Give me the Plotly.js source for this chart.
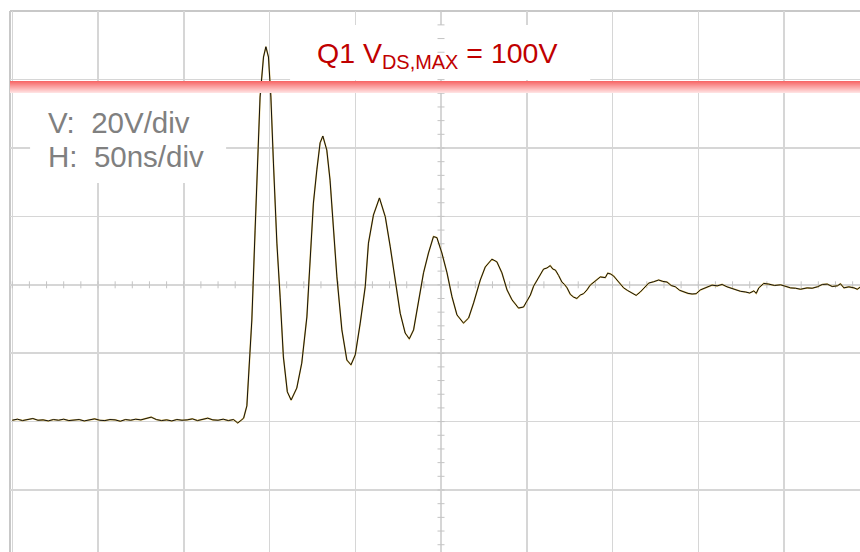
<!DOCTYPE html>
<html>
<head>
<meta charset="utf-8">
<script src="https://cdn.plot.ly/plotly-3.0.1.min.js"></script>
<style>html,body{margin:0;padding:0;background:#fff;}#chart{width:860px;height:552px;}</style>
</head>
<body>
<div id="chart"></div>
<script>
// Time axis (ns), 50 ns/div
const timeNs = [
  0,3,6,9,12,15,18,21,24,27,30,33,36,39,42,45,48,51,54,57,60,63,66,69,72,75,78,81,84,87,90,93,96,99,102,105,108,111,114,117,120,123,126,129,131.5,
  133.5,134.9,136.8,139.7,141.6,142.6,144.5,146.5,147.9,149.4,150.8,152.3,154.3,156.2,158.1,160.4,162.6,165.9,168.8,171.8,173.7,175.6,177.6,179.5,181.1,183.4,185.3,187.3,189.3,192.2,195.1,197.5,200.0,202.9,205.8,207.7,210.6,214.1,217.5,220.4,223.3,226.2,229.1,231.5,234.0,236.9,239.8,242.7,245.6,247.6,250.5,253.5,256.4,259.3,263.1,266.1,269.0,272.9,275.8,279.7,282.6,285.5,288.5,291.4,295.2,298.1,302.1,
  304.0,306.0,308.0,309.8,311.7,313.7,315.2,316.7,318.6,320.5,322.0,323.5,325.4,327.3,329.2,331.2,333.1,335.1,337.0,339.0,340.9,342.9,345.8,347.2,348.7,350.6,352.6,354.5,356.5,358.9,361.4,363.8,366.2,368.6,371.1,374.0,376.9,379.3,381.8,384.2,386.7,389.1,391.5,394.0,396.4,398.8,401.2,403.1,405.1,408.0,411.0,413.9,416.8,419.3,421.7,424.6,427.5,430.0,432.4,433.8,435.3,438.2,441.1,444.5,448.0,450.9,453.8,456.7,459.6,463.5,466.4,469.4,472.3,475.2,478.1,481.1,482.9,484.9,487.8,490.8,492.7,494.7
];
// Q1 drain-source voltage (V), 20 V/div
const vdsVolts = [
  0.4,0.7,0.3,0.6,0.9,0.4,0.5,0.2,0.6,0.4,0.7,0.3,0.5,0.6,0.2,0.5,0.8,0.4,0.3,0.6,0.5,0.1,0.6,0.4,0.7,0.5,0.9,1.3,0.6,0.3,0.5,0.2,0.6,0.4,0.5,0.8,0.3,0.6,1.0,0.5,0.4,0.7,0.3,0.6,-0.4,
  0.4,1.0,4.6,29.7,56.0,69.7,94.9,106.6,109.6,106.6,94.9,75.6,52.2,36.4,18.9,8.7,6.3,9.8,17.1,30.6,46.4,63.9,73.6,81.5,83.5,79.4,70.6,56.0,42.3,26.8,18.0,16.6,19.5,28.8,39.4,52.2,60.4,65.4,59.9,51.1,41.4,31.7,25.9,24.2,26.8,34.7,43.5,49.3,54.1,53.8,49.3,43.5,36.5,31.2,28.8,30.3,34.7,41.4,45.2,47.5,46.7,43.5,38.5,35.6,33.2,33.5,37.0,
  39.6,41.4,42.9,44.6,44.9,45.6,44.6,44.3,42.7,40.8,40.1,39.1,37.2,36.4,36.0,37.0,37.4,38.5,39.9,40.8,41.5,42.3,42.1,43.4,43.2,42.6,41.4,40.2,39.1,38.3,37.6,36.9,37.9,39.3,40.5,40.9,41.4,41.0,40.8,39.8,39.4,38.4,37.9,37.5,37.3,37.4,38.5,38.9,39.4,39.9,39.7,40.1,39.4,39.0,38.5,38.1,37.9,37.6,38.2,37.5,39.1,40.4,40.2,39.8,40.0,39.6,39.1,39.0,38.7,39.1,39.0,39.4,40.1,40.2,39.5,39.7,40.3,39.1,39.4,39.1,38.7,39.4
];
const vdsMax = 100;          // Q1 VDS,MAX limit (V)
const vScaleLabel = "V:\u00a0\u00a020V/div";
const hScaleLabel = "H:\u00a0\u00a050ns/div";
const limitLabel = "Q1 V<sub>DS,MAX</sub> = " + vdsMax + "V";

// ranges (screen geometry of the scope graticule)
const xRange = [-1.31, 494.3];
const yRange = [-38.13, 120.06];

const traces = [];
// centre-line minor ticks (graticule decoration)
const hTickX = [], hTickY = [];
for (let t = 0; t <= 490; t += 10) { hTickX.push(t); hTickY.push(40); }
const vTickX = [], vTickY = [];
for (let v = -36; v <= 120; v += 4) { vTickX.push(250); vTickY.push(v); }
traces.push({x: hTickX, y: hTickY, mode: 'markers', hoverinfo: 'skip', showlegend: false,
  marker: {symbol: 'line-ns', size: 5, line: {width: 1, color: '#c4c4c4'}}});
traces.push({x: vTickX, y: vTickY, mode: 'markers', hoverinfo: 'skip', showlegend: false,
  marker: {symbol: 'line-ew', size: 5, line: {width: 1, color: '#c4c4c4'}}});
// waveform: faint yellow fringe under black trace
traces.push({x: timeNs, y: vdsVolts, mode: 'lines', hoverinfo: 'skip', showlegend: false,
  line: {color: '#e0c060', width: 1.6}});
traces.push({x: timeNs, y: vdsVolts, mode: 'lines', showlegend: false,
  line: {color: '#111111', width: 1.0}});

const shapes = [];
// white label backgrounds above gridlines
shapes.push({type: 'rect', xref: 'x', yref: 'y', x0: 162, x1: 337, y0: 99.9, y1: 116, layer: 'between',
  fillcolor: '#ffffff', line: {width: 0}});
shapes.push({type: 'rect', xref: 'x', yref: 'y', x0: 10.4, x1: 124.7, y0: 69.8, y1: 96.1, layer: 'between',
  fillcolor: '#ffffff', line: {width: 0}});
// red gradient band under the VDS,MAX limit
const bandRows = 12;
const bandTop = vdsMax - 0.4;
const pxV = 0.2924;
for (let i = 0; i < bandRows; i++) {
  const f = i / (bandRows - 1);
  const r = Math.round(247 + 8 * f), g = Math.round(104 + 120 * f), b = Math.round(104 + 120 * f);
  shapes.push({type: 'rect', xref: 'paper', yref: 'y', x0: 0, x1: 1,
    y1: bandTop - i * pxV, y0: bandTop - (i + 1) * pxV - 0.02, layer: 'above',
    fillcolor: `rgb(${r},${g},${b})`, line: {width: 0}});
}
// graticule border (left, top)
shapes.push({type: 'line', xref: 'paper', yref: 'paper', x0: 0, x1: 0, y0: 0, y1: 1,
  line: {color: '#c8c8c8', width: 2}, layer: 'below'});
shapes.push({type: 'line', xref: 'paper', yref: 'paper', x0: 0, x1: 1, y0: 1, y1: 1,
  line: {color: '#c8c8c8', width: 2}, layer: 'below'});

const font = 'Arial, "Liberation Sans", sans-serif';
const layout = {
  width: 860, height: 552,
  margin: {l: 10, r: 0, t: 11, b: 0, pad: 0},
  paper_bgcolor: '#ffffff', plot_bgcolor: '#ffffff',
  showlegend: false,
  xaxis: {range: xRange, tick0: 0, dtick: 50, showgrid: true, gridcolor: '#d6d6d6', gridwidth: 1.5,
    zeroline: false, showticklabels: false, ticks: '', showline: false, fixedrange: true},
  yaxis: {range: yRange, tick0: 0, dtick: 20, showgrid: true, gridcolor: '#d6d6d6', gridwidth: 1.5,
    zeroline: false, showticklabels: false, ticks: '', showline: false, fixedrange: true},
  shapes: shapes,
  annotations: [
    {text: limitLabel, xref: 'x', yref: 'y', x: 247.6, y: 107.3, xanchor: 'center', yanchor: 'middle',
      showarrow: false, font: {family: font, size: 28.5, color: '#c00000'}},
    {text: vScaleLabel, xref: 'x', yref: 'y', x: 19.6, y: 87.6, xanchor: 'left', yanchor: 'middle',
      showarrow: false, font: {family: font, size: 29.5, color: '#808080'}},
    {text: hScaleLabel, xref: 'x', yref: 'y', x: 19.6, y: 77.4, xanchor: 'left', yanchor: 'middle',
      showarrow: false, font: {family: font, size: 29.5, color: '#808080'}}
  ]
};
Plotly.newPlot('chart', traces, layout, {displayModeBar: false, staticPlot: true});
</script>
</body>
</html>
